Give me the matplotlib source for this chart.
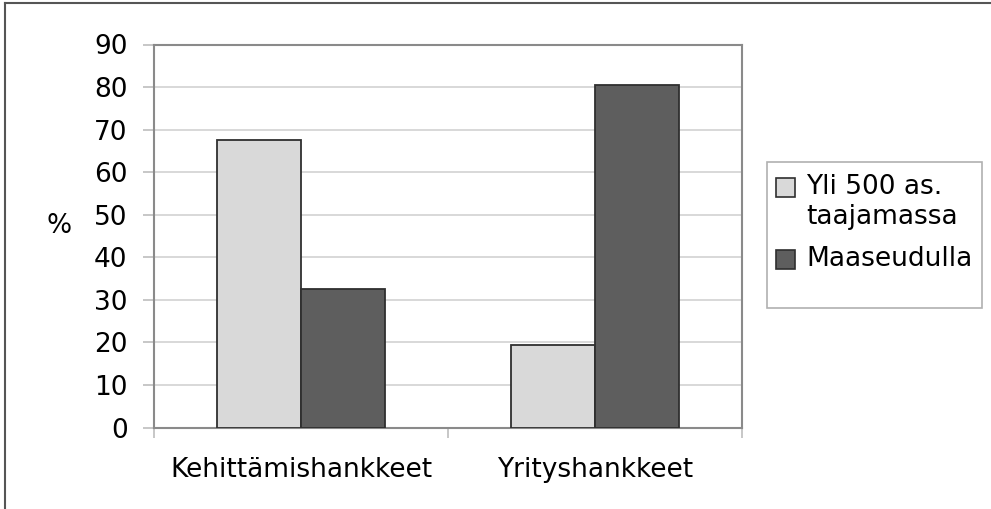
import matplotlib
matplotlib.use("Agg")
import matplotlib.pyplot as plt
from matplotlib.patches import Rectangle
from matplotlib.lines import Line2D
import numpy as np

plt.rcParams['font.family'] = ['DejaVu Sans']

# Data
categories = ["Kehittämishankkeet", "Yrityshankkeet"]
series_names = ["Yli 500 as.\ntaajamassa", "Maaseudulla"]
taajama = [67.5, 19.4]
maaseutu = [32.5, 80.6]
y_ticks = [0, 10, 20, 30, 40, 50, 60, 70, 80, 90]

light = "#d9d9d9"
dark = "#5e5e5e"
edge = "#2f2f2f"
spine_col = "#8a8a8a"
grid_col = "#d6d6d6"
FS = 19

W, H = 991, 509
fig = plt.figure(figsize=(W / 100, H / 100), dpi=100)

def fx(px):
    return px / W

def fy(py):
    return 1 - py / H

ax = fig.add_axes([fx(154), fy(427.5), fx(742) - fx(154), fy(44.5) - fy(427.5)])

x = np.arange(len(categories))
bw = 0.286
ax.bar(x - bw / 2, taajama, bw, color=light, edgecolor=edge, linewidth=1.3, zorder=3)
ax.bar(x + bw / 2, maaseutu, bw, color=dark, edgecolor=edge, linewidth=1.3, zorder=3)

ax.set_xlim(-0.5, len(categories) - 0.5)
ax.set_ylim(0, 90)
ax.set_yticks(y_ticks)
ax.set_yticklabels([str(v) for v in y_ticks], fontsize=FS)
ax.yaxis.grid(True, color=grid_col, linewidth=1.3, zorder=0)
ax.set_axisbelow(True)

ax.set_xticks(x)
ax.set_xticklabels(categories, fontsize=FS)
ax.set_xticks(np.arange(-0.5, len(categories), 1.0), minor=True)
ax.tick_params(axis='x', which='major', length=0, pad=21)
ax.tick_params(axis='x', which='minor', length=7, width=1.2, color="#bdbdbd")
ax.tick_params(axis='y', length=8, width=1.2, color="#bdbdbd", pad=11)

for s in ax.spines.values():
    s.set_color(spine_col)
    s.set_linewidth(1.5)

fig.text(fx(59), fy(226), "%", fontsize=FS, ha='center', va='center')

# Legend box
fig.patches.append(Rectangle((fx(767), fy(308)), fx(982) - fx(767), fy(162) - fy(308),
                             transform=fig.transFigure, facecolor='white',
                             edgecolor="#b0b0b0", linewidth=1.2))
legend_colors = [light, dark]
legend_tops = [178, 250]
for name, col, top in zip(series_names, legend_colors, legend_tops):
    fig.patches.append(Rectangle((fx(776), fy(top + 19)), fx(795) - fx(776), fy(top) - fy(top + 19),
                                 transform=fig.transFigure, facecolor=col,
                                 edgecolor=edge, linewidth=1.2))
    fig.text(fx(806), fy(top - 4), name, fontsize=FS, ha='left', va='top',
             linespacing=1.18)

# Outer frame (left and top edges)
fig.add_artist(Line2D([fx(5), fx(5)], [fy(3), 0], transform=fig.transFigure,
                      color="#555555", linewidth=1.5))
fig.add_artist(Line2D([fx(5), 1], [fy(3), fy(3)], transform=fig.transFigure,
                      color="#555555", linewidth=1.5))

fig.savefig("out.png", dpi=100)
